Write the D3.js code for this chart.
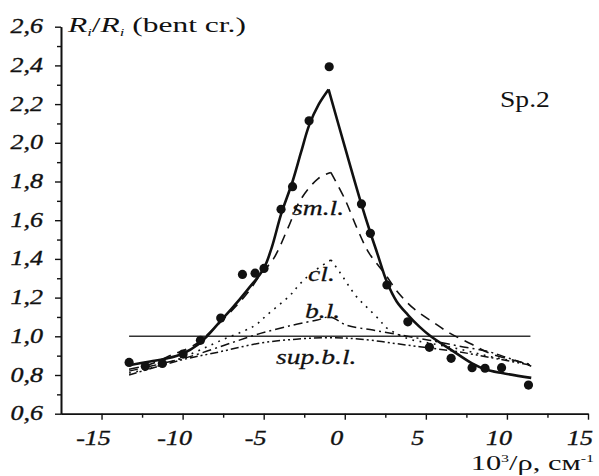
<!DOCTYPE html>
<html>
<head>
<meta charset="utf-8">
<script src="https://cdn.jsdelivr.net/npm/d3@7"></script>
<style>
  html, body { margin: 0; padding: 0; background: #fff; }
  svg { display: block; }
  text { font-family: "Liberation Serif", "Times New Roman", serif; fill: #111; }
  .tick-label { font-style: italic; font-size: 20px; stroke: #111; stroke-width: 0.35px; }
  .curve-label { font-style: italic; font-size: 20px; stroke: #111; stroke-width: 0.25px; }
  .plain { font-size: 21px; }
</style>
</head>
<body>
<svg id="chart" width="599" height="476"></svg>
<script>
// Measured ratio (filled circles)
const measured = [
  [-13.3, 0.865], [-12.3, 0.845], [-11.25, 0.86], [-9.97, 0.908], [-8.9, 0.979],
  [-7.65, 1.094], [-6.31, 1.32], [-5.53, 1.326], [-4.98, 1.351], [-3.93, 1.656],
  [-3.22, 1.773], [-2.2, 2.114], [-0.96, 2.393], [1.03, 1.684], [1.58, 1.532],
  [2.6, 1.265], [3.89, 1.075], [5.22, 0.943], [6.56, 0.886], [7.85, 0.838],
  [8.65, 0.835], [9.67, 0.838], [11.33, 0.748]
];

// Total calculated curve (solid), rising and falling branches meet at the peak
const totalLeft = [
  [-13.3, 0.85], [-12, 0.87], [-11, 0.885], [-10, 0.91], [-9, 0.96], [-8.5, 1.0],
  [-7.6, 1.085], [-7, 1.14], [-6, 1.24], [-5, 1.35], [-4.5, 1.46], [-3.93, 1.63],
  [-3.22, 1.8], [-2.7, 1.95], [-2.2, 2.09], [-1.6, 2.2], [-1, 2.276]
];
const totalRight = [
  [-1, 2.276], [0, 1.98], [1, 1.69], [1.6, 1.53], [2.0, 1.43], [2.6, 1.28],
  [3.2, 1.18], [3.9, 1.11], [4.6, 1.05], [5.3, 1.0], [6.56, 0.93], [7.85, 0.86],
  [8.65, 0.83], [9.7, 0.81], [11.5, 0.785]
];

// Component contributions
const smLLeft = [
  [-13.3, 0.83], [-12, 0.855], [-10.65, 0.905], [-10, 0.925], [-9, 0.97],
  [-8.2, 1.03], [-7, 1.13], [-5.94, 1.23], [-5.2, 1.32], [-4.4, 1.4],
  [-3.5, 1.56], [-2.77, 1.7], [-1.64, 1.815], [-0.86, 1.847]
];
const smLRight = [
  [-0.86, 1.847], [0, 1.71], [0.8, 1.55], [1.5, 1.43], [2.5, 1.32], [3.3, 1.225],
  [4.3, 1.14], [5.5, 1.07], [6.5, 1.015], [7.8, 0.96], [9, 0.91], [10.9, 0.865],
  [11.5, 0.845]
];
const clLLeft = [
  [-13.3, 0.81], [-12.2, 0.83], [-11, 0.86], [-10, 0.89], [-8.9, 0.93],
  [-7.6, 0.98], [-6.15, 1.03], [-5.47, 1.06], [-4.8, 1.11], [-3.4, 1.21],
  [-2.77, 1.27], [-2, 1.33], [-0.85, 1.395]
];
const clLRight = [
  [-0.85, 1.395], [-0.3, 1.33], [0.72, 1.205], [1.43, 1.145], [2.15, 1.084],
  [2.56, 1.045], [3.18, 1.015], [4, 0.985], [5.2, 0.965], [7, 0.935], [9, 0.895],
  [11.5, 0.855]
];
const bL = [
  [-13.3, 0.82], [-12, 0.845], [-10, 0.885], [-8.9, 0.912], [-7.07, 0.964],
  [-5.2, 1.015], [-3.2, 1.058], [-1.7, 1.084], [-0.9, 1.1], [0.1, 1.058],
  [1.74, 1.032], [3.4, 1.007], [5.2, 0.98], [7, 0.95], [8.9, 0.92], [10, 0.89],
  [11.5, 0.85]
];
const supBL = [
  [-13.3, 0.8], [-10.1, 0.877], [-7.7, 0.92], [-5.2, 0.965], [-3, 0.985],
  [-1, 0.993], [1, 0.985], [3.8, 0.955], [5.2, 0.94], [7, 0.92], [9, 0.89],
  [11.5, 0.85]
];

// Reference level (straight crystal)
const unity = [[-13.3, 1.0], [11.45, 1.0]];

const xMajor = [-15, -10, -5, 0, 5, 10, 15];
const xMinor = [-12.5, -7.5, -2.5, 2.5, 7.5, 12.5];
const yMajor = [0.6, 0.8, 1.0, 1.2, 1.4, 1.6, 1.8, 2.0, 2.2, 2.4, 2.6];
const yMinor = [0.7, 0.9, 1.1, 1.3, 1.5, 1.7, 1.9, 2.1, 2.3, 2.5];

const svg = d3.select("#chart");
const x = d3.scaleLinear().domain([-17.5, 15]).range([61, 588]);
const y = d3.scaleLinear().domain([0.6, 2.6]).range([413.7, 26.7]);

const fmt = v => d3.format(".1f")(v).replace(".", ",");
// Wide book-face look: text is stretched horizontally about its anchor point
const place = (px, py, sx) => `translate(${px},${py}) scale(${sx},1)`;

// Axes
const xAxisMajor = d3.axisBottom(x).tickValues(xMajor).tickSize(6).tickFormat("").tickSizeOuter(0);
const xAxisMinor = d3.axisBottom(x).tickValues(xMinor).tickSize(4).tickFormat("").tickSizeOuter(0);
const yAxisMajor = d3.axisLeft(y).tickValues(yMajor).tickSize(6).tickFormat("").tickSizeOuter(0);
const yAxisMinor = d3.axisLeft(y).tickValues(yMinor).tickSize(4).tickFormat("").tickSizeOuter(0);

function styleAxis(g) {
  g.selectAll("path").attr("stroke", "#111").attr("stroke-width", 1.6);
  g.selectAll("line").attr("stroke", "#111").attr("stroke-width", 1.4);
}
svg.append("g").attr("transform", `translate(0,${y(0.6)})`).call(xAxisMajor).call(styleAxis);
svg.append("g").attr("transform", `translate(0,${y(0.6)})`).call(xAxisMinor).call(styleAxis);
svg.append("g").attr("transform", `translate(${x(-17.5)},0)`).call(yAxisMajor).call(styleAxis);
svg.append("g").attr("transform", `translate(${x(-17.5)},0)`).call(yAxisMinor).call(styleAxis);

// Tick labels
svg.append("g").selectAll("text").data(xMajor).join("text")
  .attr("class", "tick-label")
  .attr("transform", d => place(x(d) - 8, 445, 1.3))
  .attr("text-anchor", "middle")
  .text(d => d);
svg.append("g").selectAll("text").data(yMajor).join("text")
  .attr("class", "tick-label")
  .attr("transform", d => place(43, y(d) + 6.5, 1.3))
  .attr("text-anchor", "end")
  .text(fmt);

// Curves
const smooth = d3.line().x(d => x(d[0])).y(d => y(d[1])).curve(d3.curveCatmullRom.alpha(0.5));
const straight = d3.line().x(d => x(d[0])).y(d => y(d[1]));

function drawCurve(data, width, dash) {
  svg.append("path").datum(data).attr("d", smooth)
    .attr("fill", "none").attr("stroke", "#111").attr("stroke-width", width)
    .attr("stroke-dasharray", dash).attr("stroke-linejoin", "round");
}

svg.append("path").datum(unity).attr("d", straight)
  .attr("fill", "none").attr("stroke", "#333").attr("stroke-width", 1.6);

drawCurve(supBL, 1.5, "8,3,2,3,2,3");
drawCurve(bL, 1.5, "9,4,2,4");
drawCurve(clLLeft, 1.6, "1.8,5.5");
drawCurve(clLRight, 1.6, "1.8,5.5");
drawCurve(smLLeft, 1.6, "10,7");
drawCurve(smLRight, 1.6, "10,7");
drawCurve(totalLeft, 2.6, null);
drawCurve(totalRight, 2.6, null);

// Measured points
svg.append("g").selectAll("circle").data(measured).join("circle")
  .attr("cx", d => x(d[0])).attr("cy", d => y(d[1])).attr("r", 4.6)
  .attr("fill", "#111");

// Curve labels
const curveLabels = [
  { t: "sm.l.", x: 292, y: 215 },
  { t: "cl.", x: 308, y: 281 },
  { t: "b.l.", x: 305, y: 318 },
  { t: "sup.b.l.", x: 276, y: 364 }
];
svg.append("g").selectAll("text").data(curveLabels).join("text")
  .attr("class", "curve-label")
  .attr("transform", d => place(d.x, d.y, 1.38))
  .text(d => d.t);

// Sample name
svg.append("text").attr("class", "plain")
  .attr("transform", place(500, 107, 1.15)).style("font-size", "24px")
  .text("Sp.2");

// Y axis title
const yt = svg.append("text").attr("class", "plain").attr("transform", place(68, 32, 1.5));
yt.append("tspan").style("font-style", "italic").text("R");
yt.append("tspan").style("font-style", "italic").style("font-size", "11px").attr("dy", 4).text("i");
yt.append("tspan").attr("dy", -4).text("/");
yt.append("tspan").style("font-style", "italic").text("R");
yt.append("tspan").style("font-style", "italic").style("font-size", "11px").attr("dy", 4).text("i");
yt.append("tspan").attr("dy", -4).text(" (bent cr.)");

// X axis title
const xt = svg.append("text").attr("class", "plain")
  .attr("transform", place(594, 470, 1.45)).attr("text-anchor", "end");
xt.append("tspan").text("10");
xt.append("tspan").style("font-size", "11px").attr("dy", -8).text("3");
xt.append("tspan").attr("dy", 8).text("/ρ, см");
xt.append("tspan").style("font-size", "11px").attr("dy", -8).text("-1");
</script>
</body>
</html>
